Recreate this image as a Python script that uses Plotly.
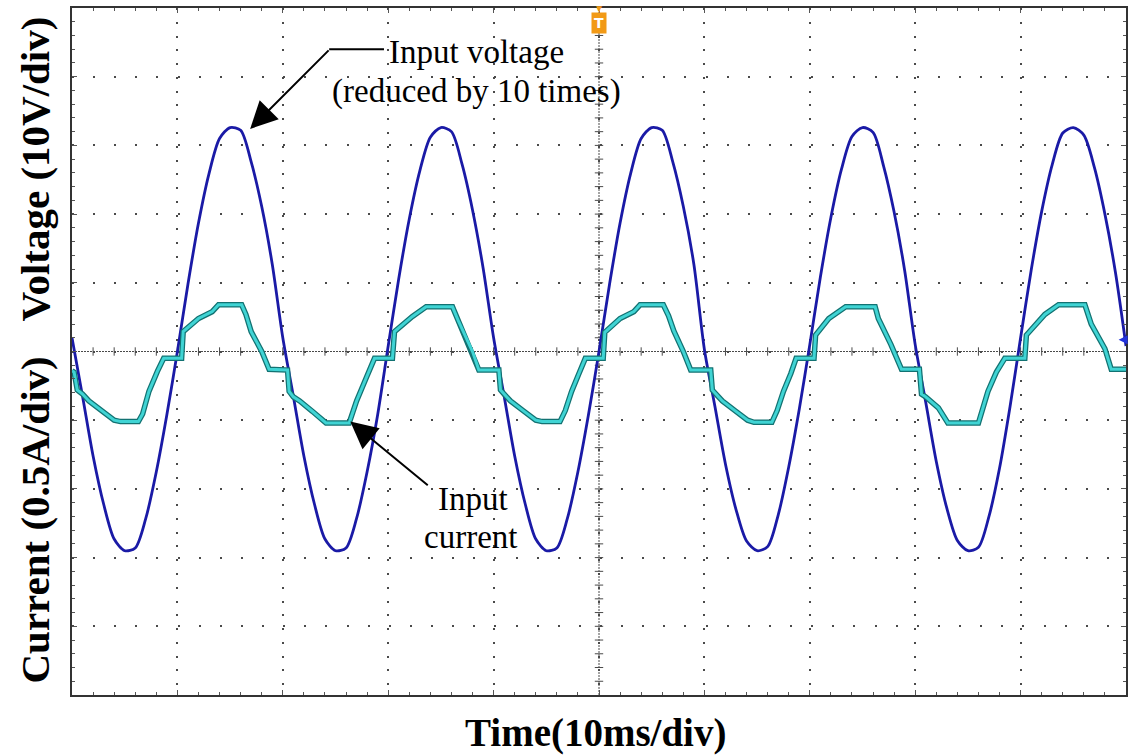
import plotly.graph_objects as go

# ---------------- data ----------------
# Time in ms (10 ms/div), input voltage reduced by 10 (V, 10 V/div)
volt_t = list(range(0, 101))
volt_v = [
    2.0, -6.5, -15.2, -22.2, -27.3, -29.0, -28.6, -24.3, -17.5, -9.2,
    0.0, 9.8, 18.7, 25.9, 31.0, 32.6, 32.2, 27.6, 21.1, 12.7,
    2.0, -6.5, -15.2, -22.2, -27.3, -29.0, -28.6, -24.3, -17.5, -9.2,
    0.8, 10.6, 19.3, 26.3, 31.2, 32.6, 32.0, 27.3, 20.6, 12.2,
    2.0, -6.5, -15.2, -22.2, -27.3, -29.0, -28.6, -24.3, -17.5, -9.2,
    0.0, 9.8, 18.7, 25.9, 31.0, 32.6, 32.2, 27.6, 21.1, 12.7,
    0.3, -8.0, -16.4, -23.0, -27.6, -29.0, -28.4, -23.8, -16.8, -8.4,
    1.0, 10.8, 19.5, 26.5, 31.3, 32.6, 31.9, 27.0, 20.3, 11.8,
    1.0, -7.4, -16.0, -22.8, -27.5, -29.0, -28.5, -24.0, -17.0, -8.0,
    2.0, 11.8, 20.4, 27.2, 31.8, 32.6, 31.5, 26.8, 20.0, 11.5,
    0.8,
]

# Input current (A, 0.5 A/div)
cur_t = [
    0.0, 0.2, 0.5, 1.0, 1.6, 2.8, 4.0, 4.6, 6.3, 6.7, 7.3, 8.1, 8.7, 10.4, 10.55,
    12.0, 13.3, 13.9, 16.1, 16.5, 17.0, 18.0, 18.7,
    20.45, 20.6, 21.0, 21.6, 22.8, 24.1, 26.3, 27.0, 27.9, 28.7, 30.4, 30.6,
    32.3, 33.6, 36.1, 36.7, 38.0, 38.6,
    40.5, 40.65, 41.0, 41.6, 42.8, 44.0, 44.6, 46.3, 46.8, 47.4, 48.1, 48.7, 50.4, 50.55,
    52.0, 53.3, 53.9, 56.1, 56.6, 57.1, 58.0, 58.7,
    60.6, 60.75, 61.1, 61.7, 62.9, 64.1, 64.7, 66.4, 66.9, 67.5, 68.2, 68.7, 70.4, 70.55,
    71.8, 72.9, 73.4, 76.2, 76.5, 77.7, 78.7,
    80.4, 80.6, 81.0, 82.2, 83.1, 86.0, 86.9, 87.7, 88.5, 90.4, 90.55,
    92.3, 93.6, 96.1, 96.7, 98.0, 98.6, 100.0,
]
cur_a = [
    -0.14, -0.15, -0.28, -0.31, -0.36, -0.43, -0.50, -0.51, -0.51, -0.455, -0.29, -0.145, -0.05, -0.05, 0.145,
    0.24, 0.29, 0.34, 0.34, 0.27, 0.145, 0.0, -0.13,
    -0.135, -0.29, -0.33, -0.36, -0.435, -0.52, -0.52, -0.36, -0.195, -0.05, -0.05, 0.145,
    0.255, 0.325, 0.325, 0.215, 0.0, -0.135,
    -0.135, -0.28, -0.31, -0.36, -0.43, -0.50, -0.51, -0.51, -0.43, -0.29, -0.16, -0.05, -0.05, 0.14,
    0.24, 0.29, 0.34, 0.34, 0.26, 0.15, 0.0, -0.135,
    -0.135, -0.28, -0.31, -0.36, -0.43, -0.50, -0.515, -0.515, -0.43, -0.29, -0.16, -0.05, -0.05, 0.12,
    0.24, 0.30, 0.325, 0.325, 0.24, 0.05, -0.13,
    -0.13, -0.31, -0.33, -0.41, -0.52, -0.52, -0.29, -0.15, -0.05, -0.05, 0.12,
    0.27, 0.34, 0.34, 0.20, 0.02, -0.13, -0.13,
]

x_title = "Time(10ms/div)"
y_title_top = "Voltage (10V/div)"
y_title_bottom = "Current (0.5A/div)"
volt_label_lines = ["Input voltage", "(reduced by 10 times)"]
cur_label_lines = ["Input", "current"]

# ---------------- figure ----------------
W, H = 1134, 756
ML, MR, MT, MB = 72, 6, 6, 61
PW, PH = W - ML - MR, H - MT - MB
X_RANGE = [0, 100]
Y_RANGE = [-50, 50]
I_RANGE = [-2.5, 2.5]
minor_x_px = PW / 50.0
minor_y_px = PH / 50.0

SERIF = "Liberation Serif, Times New Roman, serif"
GRID = "#4a4a4a"

fig = go.Figure()

# centre-line tick marks (scope graticule)
cx = [2 * k for k in range(1, 50)]
fig.add_trace(go.Scatter(x=cx, y=[0] * len(cx), mode="markers", hoverinfo="skip",
                         marker=dict(symbol="line-ns", size=6, line=dict(width=1, color=GRID))))
cy = [-50 + 2 * k for k in range(1, 50)]
fig.add_trace(go.Scatter(x=[50] * len(cy), y=cy, mode="markers", hoverinfo="skip",
                         marker=dict(symbol="line-ew", size=6, line=dict(width=1, color=GRID))))

# current trace: dark edge + cyan core
fig.add_trace(go.Scatter(x=cur_t, y=cur_a, yaxis="y2", mode="lines", hoverinfo="skip",
                         line=dict(color="#127272", width=5.5)))
fig.add_trace(go.Scatter(x=cur_t, y=cur_a, yaxis="y2", mode="lines", name="Input current",
                         line=dict(color="#40d4d4", width=3)))
# voltage trace
fig.add_trace(go.Scatter(x=volt_t, y=volt_v, mode="lines", name="Input voltage",
                         line=dict(color="#1a1aa6", width=2.8, shape="spline", smoothing=0.8)))

shapes = [
    dict(type="line", xref="x", yref="y", x0=0, x1=100, y0=0, y1=0, layer="below",
         line=dict(color=GRID, width=1, dash="2px,1px")),
    dict(type="line", xref="x", yref="y", x0=50, x1=50, y0=-50, y1=50, layer="below",
         line=dict(color=GRID, width=1, dash="2px,1px")),
    # horizontal part of the voltage label leader
    dict(type="line", xref="x", yref="y", x0=24.4, x1=29.6, y0=44.0, y1=44.0,
         line=dict(color="black", width=2)),
]

lab_font = dict(family=SERIF, size=33, color="black")
title_font = dict(family=SERIF, size=39, color="black")
ytitle_font = dict(family=SERIF, size=41, color="black")

annotations = [
    dict(text="<b>" + x_title + "</b>", x=0.497, y=-0.055, xref="paper", yref="paper",
         showarrow=False, xanchor="center", yanchor="middle", font=title_font),
    dict(text="<b>" + y_title_top + "</b>", x=0, y=0.765, xref="paper", yref="paper",
         showarrow=False, xanchor="center", yanchor="middle", xshift=-37, textangle=-90,
         font=ytitle_font),
    dict(text="<b>" + y_title_bottom + "</b>", x=0, y=0.254, xref="paper", yref="paper",
         showarrow=False, xanchor="center", yanchor="middle", xshift=-37, textangle=-90,
         font=ytitle_font),
    dict(text=volt_label_lines[0], x=38.4, y=43.6, xref="x", yref="y", showarrow=False,
         xanchor="center", yanchor="middle", font=lab_font),
    dict(text=volt_label_lines[1], x=38.4, y=37.8, xref="x", yref="y", showarrow=False,
         xanchor="center", yanchor="middle", font=lab_font),
    dict(text="", x=16.9, y=32.4, xref="x", yref="y", showarrow=True, ax=80, ay=-80,
         arrowhead=2, arrowsize=2.7, arrowwidth=2, arrowcolor="black", standoff=0),
    dict(text=cur_label_lines[0], x=38.0, y=-21.4, xref="x", yref="y", showarrow=False,
         xanchor="center", yanchor="middle", font=lab_font),
    dict(text=cur_label_lines[1], x=37.8, y=-27.0, xref="x", yref="y", showarrow=False,
         xanchor="center", yanchor="middle", font=lab_font),
    dict(text="", x=26.4, y=-10.2, xref="x", yref="y", showarrow=True, ax=79, ay=65,
         arrowhead=2, arrowsize=2.7, arrowwidth=2, arrowcolor="black", standoff=0),
    # trigger marker
    dict(text="<b>T</b>", x=50, y=0.978, xref="x", yref="paper", showarrow=False,
         xanchor="center", yanchor="middle", bgcolor="#f29a16", borderpad=2,
         font=dict(family="DejaVu Sans", size=14, color="white")),
    dict(text="▼", x=50, y=1.0, xref="x", yref="paper", showarrow=False,
         xanchor="center", yanchor="middle", font=dict(size=10, color="#f29a16")),
    # channel ground marker
    dict(text="", x=99.3, y=1.7, xref="x", yref="y", showarrow=True, ax=8, ay=0,
         arrowhead=2, arrowsize=1.2, arrowwidth=1.5, arrowcolor="#2233dd", standoff=0),
]

fig.update_layout(
    width=W, height=H,
    margin=dict(l=ML, r=MR, t=MT, b=MB),
    paper_bgcolor="white", plot_bgcolor="white",
    showlegend=False,
    shapes=shapes, annotations=annotations,
    xaxis=dict(range=X_RANGE, dtick=10, tick0=0, showticklabels=False,
               showgrid=True, gridcolor=GRID, gridwidth=2,
               griddash=f"2px,{minor_y_px - 2:.2f}px",
               zeroline=False, showline=True, linecolor="#333", linewidth=1.5, mirror="ticks",
               ticks="inside", ticklen=5, tickcolor="#555", tickwidth=1,
               minor=dict(dtick=2, ticks="inside", ticklen=3, tickcolor="#555", showgrid=False)),
    yaxis=dict(range=Y_RANGE, dtick=10, tick0=0, showticklabels=False,
               showgrid=True, gridcolor=GRID, gridwidth=2,
               griddash=f"2px,{minor_x_px - 2:.2f}px",
               zeroline=False, showline=True, linecolor="#333", linewidth=1.5, mirror="ticks",
               ticks="inside", ticklen=5, tickcolor="#555", tickwidth=1,
               minor=dict(dtick=2, ticks="inside", ticklen=3, tickcolor="#555", showgrid=False)),
    yaxis2=dict(range=I_RANGE, overlaying="y", visible=False),
)

fig.write_html("out.html")
